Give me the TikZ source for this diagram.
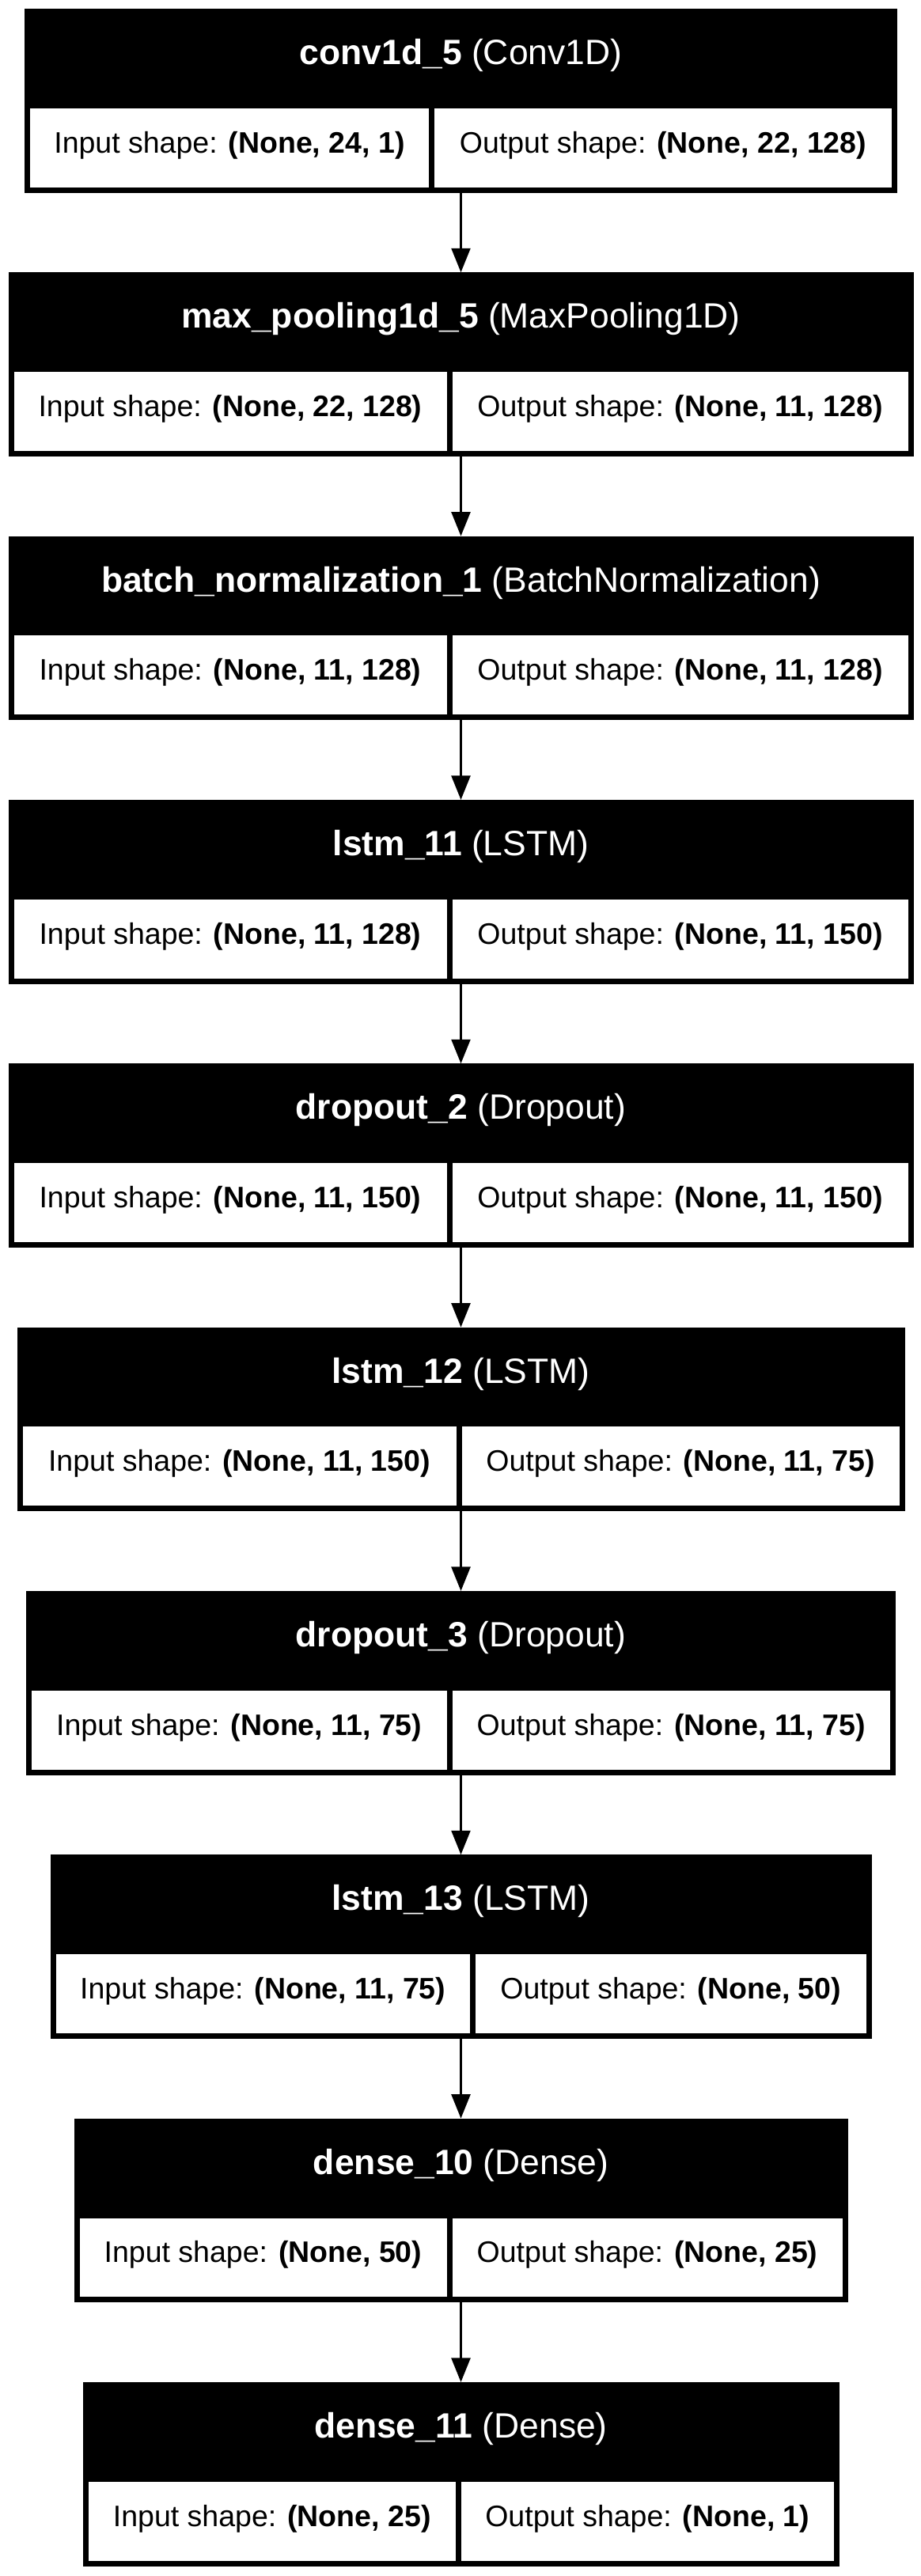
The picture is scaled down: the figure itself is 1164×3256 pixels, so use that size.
\documentclass[tikz,border=0pt]{standalone}
\usepackage{fontspec}
\setmainfont{Liberation Sans}
\usetikzlibrary{arrows.meta}
\tikzset{
  outerbox/.style={rectangle, fill=black, draw=none, inner sep=0pt, outer sep=0pt},
  cellbox/.style={rectangle, fill=white, draw=none, inner sep=0pt, outer sep=0pt},
  headtext/.style={text=white, anchor=base, inner sep=0pt, font=\fontsize{16bp}{19bp}\selectfont},
  celltext/.style={text=black, anchor=base, inner sep=0pt, font=\fontsize{13.5bp}{16bp}\selectfont},
  arr/.style={-{Triangle[length=11bp,width=8.5bp]}, line width=1.3bp, draw=black},
}
% #1 id, #2 top, #3 left, #4 right, #5 divider, #6 name, #7 type, #8 input, #9 output
\newcommand\layer[9]{%
  \pgfmathsetmacro\lyCX{(#3+#4)/2}%
  \pgfmathsetmacro\lyW{#4-#3}%
  \pgfmathsetmacro\lyCY{#2+116.25}%
  \pgfmathsetmacro\lyLX{(#3+7+#5-3.5)/2}%
  \pgfmathsetmacro\lyLW{#5-3.5-#3-7}%
  \pgfmathsetmacro\lyRX{(#5+3.5+#4-7)/2}%
  \pgfmathsetmacro\lyRW{#4-7-#5-3.5}%
  \pgfmathsetmacro\lyCellY{#2+175.65}%
  \pgfmathsetmacro\lyHB{#2+70.5}%
  \pgfmathsetmacro\lyCB{#2+182}%
  \node[outerbox, minimum width=\lyW*0.36bp, minimum height=232.5*0.36bp] (#1) at (\lyCX,\lyCY) {};
  \node[cellbox, minimum width=\lyLW*0.36bp, minimum height=99.7*0.36bp] (#1i) at (\lyLX,\lyCellY) {};
  \node[cellbox, minimum width=\lyRW*0.36bp, minimum height=99.7*0.36bp] (#1o) at (\lyRX,\lyCellY) {};
  \node[headtext] (#1h) at (\lyCX,\lyHB) {\textbf{#6} (#7)};
  \node[celltext] (#1it) at (\lyLX,\lyCB) {Input shape: \textbf{#8}};
  \node[celltext] (#1ot) at (\lyRX,\lyCB) {Output shape: \textbf{#9}};
}
\begin{document}
\begin{tikzpicture}[x=0.36bp,y=-0.36bp]
\fill[white] (0,0) rectangle (1164,3256);
\useasboundingbox (0,0) rectangle (1164,3256);
\layer{b1}{11}{31}{1134}{545.5}{conv1d\_5}{Conv1D}{(None, 24, 1)}{(None, 22, 128)}
\layer{b2}{344.33}{10.5}{1154.5}{568}{max\_pooling1d\_5}{MaxPooling1D}{(None, 22, 128)}{(None, 11, 128)}
\layer{b3}{677.67}{10.5}{1154.5}{568}{batch\_normalization\_1}{BatchNormalization}{(None, 11, 128)}{(None, 11, 128)}
\layer{b4}{1011}{10.5}{1154.5}{568}{lstm\_11}{LSTM}{(None, 11, 128)}{(None, 11, 150)}
\layer{b5}{1344.33}{10.5}{1154.5}{568}{dropout\_2}{Dropout}{(None, 11, 150)}{(None, 11, 150)}
\layer{b6}{1677.67}{21.5}{1143.5}{580}{lstm\_12}{LSTM}{(None, 11, 150)}{(None, 11, 75)}
\layer{b7}{2011}{33}{1132}{568}{dropout\_3}{Dropout}{(None, 11, 75)}{(None, 11, 75)}
\layer{b8}{2344.33}{63.5}{1101.5}{597.5}{lstm\_13}{LSTM}{(None, 11, 75)}{(None, 50)}
\layer{b9}{2677.67}{93.5}{1071.5}{568}{dense\_10}{Dense}{(None, 50)}{(None, 25)}
\layer{b10}{3011}{104.5}{1060.5}{579.5}{dense\_11}{Dense}{(None, 25)}{(None, 1)}
\draw[arr] (b1.south) -- (b2.north);
\draw[arr] (b2.south) -- (b3.north);
\draw[arr] (b3.south) -- (b4.north);
\draw[arr] (b4.south) -- (b5.north);
\draw[arr] (b5.south) -- (b6.north);
\draw[arr] (b6.south) -- (b7.north);
\draw[arr] (b7.south) -- (b8.north);
\draw[arr] (b8.south) -- (b9.north);
\draw[arr] (b9.south) -- (b10.north);
\end{tikzpicture}
\end{document}
